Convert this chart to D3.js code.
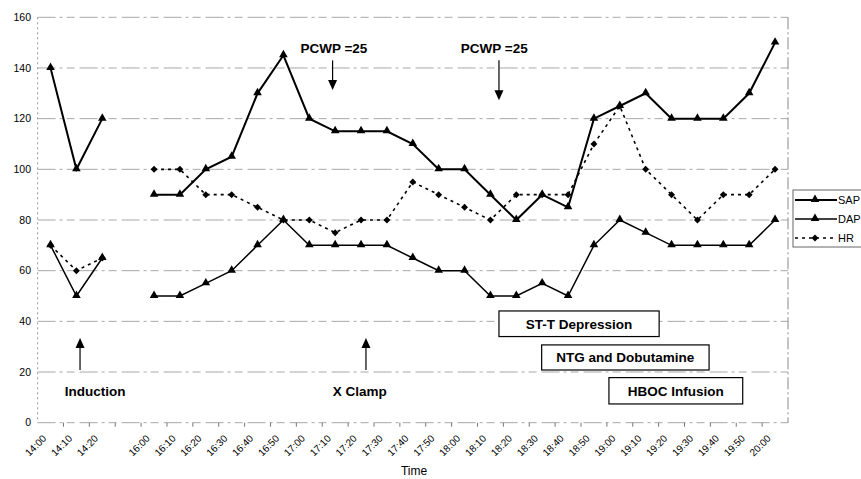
<!DOCTYPE html>
<html>
<head>
<meta charset="utf-8">
<script src="https://cdn.jsdelivr.net/npm/d3@7"></script>
<style>
  body { margin: 0; background: #fff; }
  text { font-family: Arial, "Liberation Sans", sans-serif; fill: #000; }
</style>
</head>
<body>
<script>
const width = 861;
const height = 479;

// categories: the empty one is the break between 14:20 and 16:00
const times = ["14:00", "14:10", "14:20", "",
  "16:00", "16:10", "16:20", "16:30", "16:40", "16:50",
  "17:00", "17:10", "17:20", "17:30", "17:40", "17:50",
  "18:00", "18:10", "18:20", "18:30", "18:40", "18:50",
  "19:00", "19:10", "19:20", "19:30", "19:40", "19:50", "20:00"];

const sap = [140, 100, 120, null,
  90, 90, 100, 105, 130, 145, 120, 115, 115, 115, 110, 100,
  100, 90, 80, 90, 85, 120, 125, 130, 120, 120, 120, 130, 150];

const dap = [70, 50, 65, null,
  50, 50, 55, 60, 70, 80, 70, 70, 70, 70, 65, 60,
  60, 50, 50, 55, 50, 70, 80, 75, 70, 70, 70, 70, 80];

const hr = [70, 60, 65, null,
  100, 100, 90, 90, 85, 80, 80, 75, 80, 80, 95, 90,
  85, 80, 90, 90, 90, 110, 125, 100, 90, 80, 90, 90, 100];

const yTicks = [0, 20, 40, 60, 80, 100, 120, 140, 160];

// annotations, placed by (fractional) category index and value
const arrows = [
  {label: "PCWP =25", at: 10.9, from: 143, to: 131.3, textAt: 10.95, textY: 146},
  {label: "PCWP =25", at: 17.33, from: 143, to: 127.3, textAt: 17.15, textY: 146},
  {label: "Induction", at: 1.14, from: 20.8, to: 33.4, textAt: 1.72, textY: 10.5},
  {label: "X Clamp", at: 12.19, from: 20.8, to: 33.4, textAt: 11.95, textY: 10.5}
];
const boxes = [
  {label: "ST-T Depression", x0: 17.33, x1: 23.52, top: 44.1, bottom: 34.0},
  {label: "NTG and Dobutamine", x0: 18.98, x1: 25.45, top: 30.7, bottom: 20.8},
  {label: "HBOC Infusion", x0: 21.58, x1: 26.75, top: 17.8, bottom: 7.4}
];

const svg = d3.select('body').append('svg')
    .attr('width', width)
    .attr('height', height);

const x = d3.scaleBand()
    .domain(times)
    .range([37.6, 788]);

const y = d3.scaleLinear()
    .domain([0, 160])
    .range([422.7, 17.3]);

const cx = t => x(t) + x.bandwidth() / 2;
const xi = d3.scaleLinear()
    .domain([0, times.length - 1])
    .range([cx(times[0]), cx(times[times.length - 1])]);

// faded gridlines like the scan
svg.append('g')
  .selectAll('line')
  .data(yTicks)
  .enter().append('line')
    .attr('x1', x.range()[0])
    .attr('x2', x.range()[1])
    .attr('y1', d => y(d))
    .attr('y2', d => y(d))
    .attr('stroke', '#a8a8a8')
    .attr('stroke-width', 1)
    .attr('stroke-dasharray', '18,4,3,4,8,5');

// plot border sides
svg.append('line')
    .attr('x1', x.range()[0]).attr('x2', x.range()[0])
    .attr('y1', y(160)).attr('y2', y(0))
    .attr('stroke', '#999').attr('stroke-dasharray', '2,3');
svg.append('line')
    .attr('x1', x.range()[1]).attr('x2', x.range()[1])
    .attr('y1', y(160)).attr('y2', y(0))
    .attr('stroke', '#888').attr('stroke-dasharray', '12,3,2,3');

// y labels
svg.append('g')
  .selectAll('text')
  .data(yTicks)
  .enter().append('text')
    .attr('x', 31)
    .attr('y', d => y(d))
    .attr('dy', '0.35em')
    .attr('text-anchor', 'end')
    .style('font-size', '10.5px')
    .text(d => d);

// x axis ticks between categories
svg.append('g')
  .selectAll('line')
  .data(times.slice(1))
  .enter().append('line')
    .attr('x1', d => x(d))
    .attr('x2', d => x(d))
    .attr('y1', y(0))
    .attr('y2', y(0) + 4)
    .attr('stroke', '#777');

svg.append('g')
  .selectAll('text')
  .data(times.filter(t => t !== ""))
  .enter().append('text')
    .attr('transform', d => `translate(${cx(d) - 6},${y(0) + 14}) rotate(-45)`)
    .attr('text-anchor', 'end')
    .attr('dy', '0.35em')
    .style('font-size', '10px')
    .text(d => d);

svg.append('text')
    .attr('x', 414)
    .attr('y', 475)
    .attr('text-anchor', 'middle')
    .style('font-size', '12px')
    .text('Time');

// series
const series = [
  {name: "SAP", values: sap, width: 2, dash: null, marker: 'tri'},
  {name: "DAP", values: dap, width: 1.5, dash: null, marker: 'tri'},
  {name: "HR", values: hr, width: 1.6, dash: '3,4', marker: 'dia'}
];

const line = d3.line()
    .defined(d => d.v != null)
    .x(d => cx(d.t))
    .y(d => y(d.v));

const triangle = d3.symbol().type(d3.symbolTriangle).size(32);
const diamond = d3.symbol().type(d3.symbolSquare).size(24);

function drawMarker(g, kind, px, py) {
  g.append('path')
    .attr('d', kind === 'tri' ? triangle() : diamond())
    .attr('transform', kind === 'tri'
      ? `translate(${px},${py - 0.5})`
      : `translate(${px},${py}) rotate(45)`)
    .attr('fill', '#000');
}

// draw HR first so the solid lines sit on top
[series[2], series[1], series[0]].forEach(s => {
  const pts = times.map((t, i) => ({t: t, v: s.values[i]}));
  const g = svg.append('g');
  g.append('path')
      .datum(pts)
      .attr('fill', 'none')
      .attr('stroke', '#000')
      .attr('stroke-width', s.width)
      .attr('stroke-dasharray', s.dash)
      .attr('d', line);
  pts.filter(d => d.v != null).forEach(d => drawMarker(g, s.marker, cx(d.t), y(d.v)));
});

// legend (runs off the right edge, as in the scan)
const legend = svg.append('g');
legend.append('rect')
    .attr('x', 793).attr('y', 190)
    .attr('width', 90).attr('height', 57)
    .attr('fill', '#fff')
    .attr('stroke', '#666');
series.forEach((s, i) => {
  const ly = 200 + i * 19;
  legend.append('line')
      .attr('x1', 795).attr('x2', 837)
      .attr('y1', ly).attr('y2', ly)
      .attr('stroke', '#000')
      .attr('stroke-width', s.width)
      .attr('stroke-dasharray', s.dash);
  drawMarker(legend, s.marker, 815, ly);
  legend.append('text')
      .attr('x', 838).attr('y', ly)
      .attr('dy', '0.35em')
      .style('font-size', '11px')
      .text(s.name);
});

// arrows with labels
arrows.forEach(a => {
  const ax = xi(a.at);
  const y1 = y(a.from), y2 = y(a.to);
  const dir = y2 > y1 ? 1 : -1;
  svg.append('line')
      .attr('x1', ax).attr('x2', ax)
      .attr('y1', y1).attr('y2', y2 - dir * 8)
      .attr('stroke', '#000').attr('stroke-width', 1.2);
  svg.append('path')
      .attr('d', `M${ax - 4.5},${y2 - dir * 10} L${ax + 4.5},${y2 - dir * 10} L${ax},${y2} Z`)
      .attr('fill', '#000');
  svg.append('text')
      .attr('x', xi(a.textAt))
      .attr('y', y(a.textY))
      .attr('text-anchor', 'middle')
      .style('font-size', '13.5px')
      .style('font-weight', 'bold')
      .text(a.label);
});

// event boxes
boxes.forEach(b => {
  const x0 = xi(b.x0), x1 = xi(b.x1);
  const y0 = y(b.top), y1 = y(b.bottom);
  svg.append('rect')
      .attr('x', x0).attr('y', y0)
      .attr('width', x1 - x0).attr('height', y1 - y0)
      .attr('fill', '#fff')
      .attr('stroke', '#000')
      .attr('stroke-width', 1.2);
  svg.append('text')
      .attr('x', (x0 + x1) / 2)
      .attr('y', (y0 + y1) / 2)
      .attr('dy', '0.36em')
      .attr('text-anchor', 'middle')
      .style('font-size', '13.5px')
      .style('font-weight', 'bold')
      .text(b.label);
});
</script>
</body>
</html>
